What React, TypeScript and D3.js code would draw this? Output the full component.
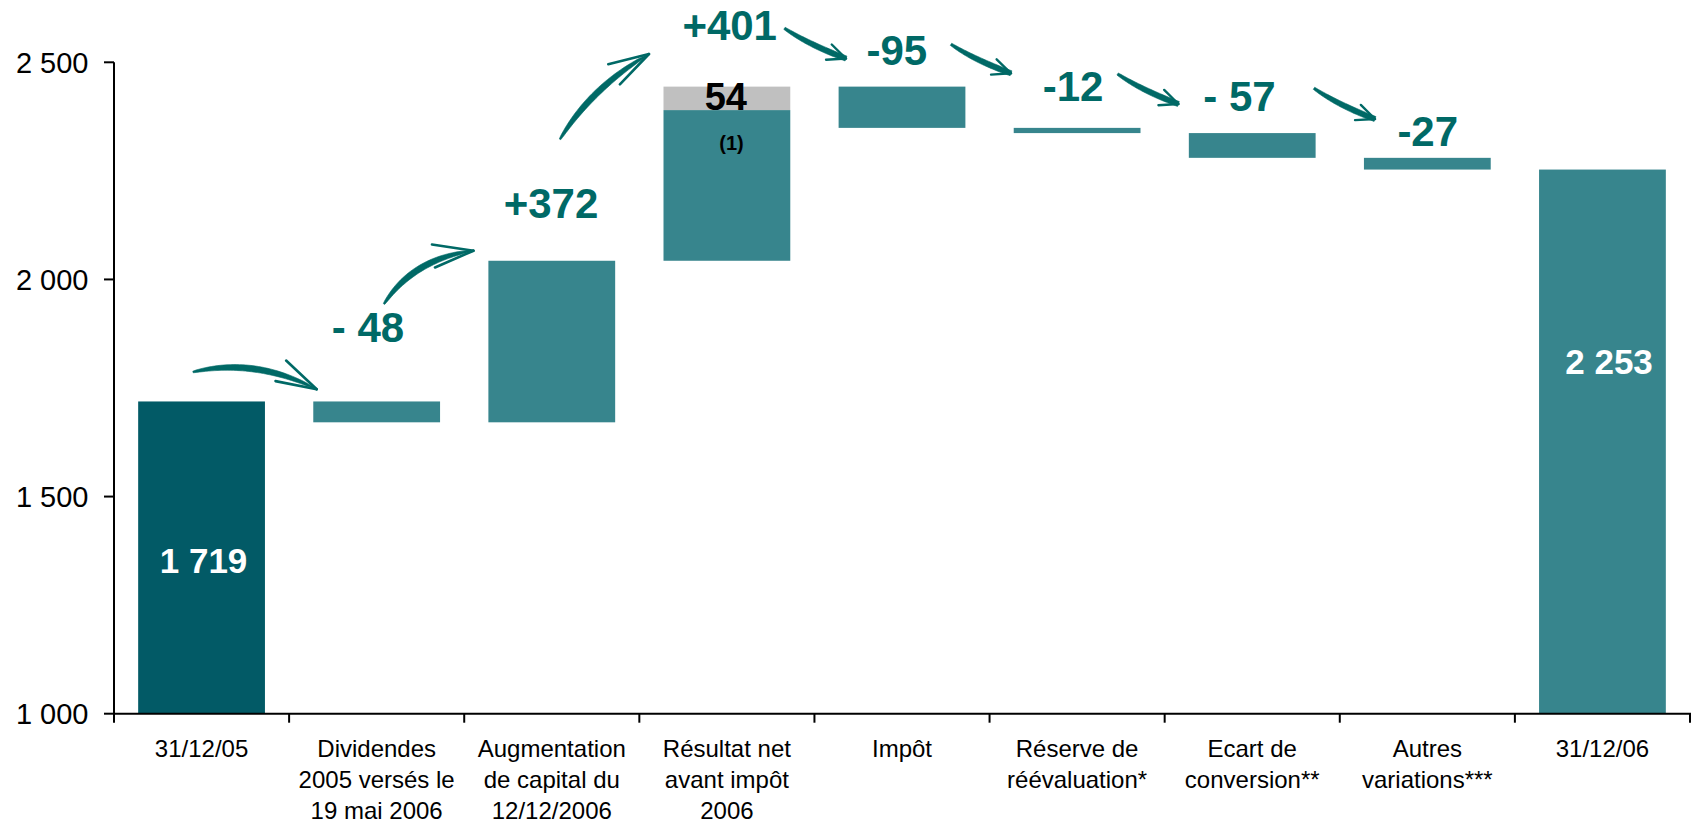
import React from "react";
import * as d3 from "d3";

// ---------- data ----------
const categories: string[][] = [
  ["31/12/05"],
  ["Dividendes", "2005 versés le", "19 mai 2006"],
  ["Augmentation", "de capital du", "12/12/2006"],
  ["Résultat net", "avant impôt", "2006"],
  ["Impôt"],
  ["Réserve de", "réévaluation*"],
  ["Ecart de", "conversion**"],
  ["Autres", "variations***"],
  ["31/12/06"],
];
const startValue = 1719;
const changes = [-48, 372, 401, -95, -12, -57, -27];
const endValue = 2253;
const highlightPart = 54; // grey part of "Résultat net avant impôt 2006"
const highlightIndex = 3;
const yTicks = [1000, 1500, 2000, 2500];
const valueLabels = ["1 719", "- 48", "+372", "+401", "-95", "-12", "- 57", "-27", "2 253"];
const highlightLabel = "54";
const highlightNote = "(1)";

// ---------- annotation placement (px offsets from bar top / band centre) ----------
const labelDx = [2, -8.7, -0.8, 2.8, -5.2, -4, -12.7, 0.4, 6.6];
const labelDy = [171.7, -59.9, -42.6, -46.2, -21.9, -26.4, -21.6, -11.4, 204.7];

// hand-drawn arrows, in (category position, value) units: tail, control, tip
const arrows: [number, number][][] = [
  [[0.4511, 1786.9], [0.8052, 1820.2], [1.1576, 1747.0]],
  [[1.5419, 1943.4], [1.7089, 2047.9], [2.053, 2066.2]],
  [[2.547, 2322.7], [2.7269, 2442.3], [3.0552, 2519.1]],
  [[3.829, 2578.3], [3.9675, 2540.8], [4.1802, 2508.7]],
  [[4.7799, 2541.4], [4.9146, 2505.3], [5.1225, 2474.7]],
  [[5.7313, 2473.1], [5.8683, 2435.8], [6.0785, 2404.0]],
  [[6.8528, 2440.1], [6.9899, 2401.9], [7.2012, 2369.4]],
];
const arrowSize = [1, 1, 1, 0.6, 0.6, 0.6, 0.6];

// ---------- styles ----------
const W = 1696;
const H = 823;
const FONT = "'Liberation Sans', Arial, Helvetica, sans-serif";
const DARK = "#025A66";
const MID = "#37858D";
const GREY = "#C0C0C0";
const TEAL = "#006966";

const left = 114;
const right = 1690;
const top = 62.3;
const bottom = 713.7;

function arrowShape(p0: number[], p1: number[], p2: number[], s: number) {
  const N = 40;
  const L: number[][] = [];
  const R: number[][] = [];
  const wMin = 0.8;
  const wMax = s < 1 ? 2.8 : 3.1;
  for (let k = 0; k <= N; k++) {
    const t = k / N;
    const mt = 1 - t;
    const x = mt * mt * p0[0] + 2 * mt * t * p1[0] + t * t * p2[0];
    const y = mt * mt * p0[1] + 2 * mt * t * p1[1] + t * t * p2[1];
    const dx = 2 * mt * (p1[0] - p0[0]) + 2 * t * (p2[0] - p1[0]);
    const dy = 2 * mt * (p1[1] - p0[1]) + 2 * t * (p2[1] - p1[1]);
    const len = Math.hypot(dx, dy) || 1;
    const nx = -dy / len;
    const ny = dx / len;
    const prof = s < 1 ? Math.pow(Math.sin(Math.PI * Math.min(1, t * 0.62 + 0.05)), 0.8) :
      Math.pow(Math.sin(Math.PI * Math.min(1, t * 1.05)), 0.7);
    const w = wMin + (wMax - wMin) * prof;
    L.push([x + nx * w, y + ny * w]);
    R.push([x - nx * w, y - ny * w]);
  }
  const pts = L.concat(R.reverse());
  const body = "M" + pts.map((p) => p[0].toFixed(2) + "," + p[1].toFixed(2)).join("L") + "Z";
  // barbs
  const bx = p1[0] - p2[0];
  const by = p1[1] - p2[1];
  const ang = Math.atan2(by, bx);
  const spread = (s < 1 ? 24 : 16) * (Math.PI / 180);
  const blen = s < 1 ? 20 : 42;
  const b1 = [p2[0] + Math.cos(ang + spread) * blen, p2[1] + Math.sin(ang + spread) * blen];
  const b2 = [p2[0] + Math.cos(ang - spread) * blen, p2[1] + Math.sin(ang - spread) * blen];
  return { body, b1, b2, tip: p2 };
}

export default function App() {
  const idx = categories.map((_, i) => String(i));
  const x = d3.scaleBand<string>().domain(idx).range([left, right]).paddingInner(0.276).paddingOuter(0.138);
  const xPos = d3.scaleLinear().domain([0, categories.length]).range([left, right]);
  const y = d3.scaleLinear().domain([1000, 2500]).range([bottom, top]);
  const base = y.domain()[0];

  type Bar = { i: number; y0: number; y1: number; fill: string };
  const bars: Bar[] = [];
  const tops: number[] = [];
  bars.push({ i: 0, y0: base, y1: startValue, fill: DARK });
  tops.push(startValue);
  let run = startValue;
  changes.forEach((c, k) => {
    const i = k + 1;
    const a = run;
    const b = run + c;
    run = b;
    if (i === highlightIndex) {
      const hi = Math.max(a, b);
      bars.push({ i, y0: Math.min(a, b), y1: hi - highlightPart, fill: MID });
      bars.push({ i, y0: hi - highlightPart, y1: hi, fill: GREY });
    } else {
      bars.push({ i, y0: Math.min(a, b), y1: Math.max(a, b), fill: MID });
    }
    tops.push(Math.max(a, b));
  });
  bars.push({ i: categories.length - 1, y0: base, y1: endValue, fill: MID });
  tops.push(endValue);

  const bw = x.bandwidth();
  const cx = (i: number) => (x(String(i)) as number) + bw / 2;

  return (
    <svg
      width={W}
      height={H}
      viewBox={`0 0 ${W} ${H}`}
      style={{ position: "absolute", left: 0, top: 0, display: "block", background: "#fff" }}
      fontFamily={FONT}
    >
      <rect x={0} y={0} width={W} height={H} fill="#fff" />
      {/* bars */}
      {bars.map((b, k) => (
        <rect
          key={"b" + k}
          x={x(String(b.i))}
          y={y(b.y1)}
          width={bw}
          height={y(b.y0) - y(b.y1)}
          fill={b.fill}
        />
      ))}

      {/* axes */}
      <line x1={left} x2={left} y1={y(2500)} y2={y(1000)} stroke="#000" strokeWidth={2} />
      <line x1={left - 1} x2={right + 1} y1={y(1000)} y2={y(1000)} stroke="#000" strokeWidth={2} />
      {yTicks.map((t) => (
        <g key={"yt" + t}>
          <line x1={left - 10} x2={left} y1={y(t)} y2={y(t)} stroke="#000" strokeWidth={2} />
          <text x={88.5} y={y(t)} dy="0.36em" textAnchor="end" fontSize={29} fill="#000">
            {d3.format(",")(t).replace(",", " ")}
          </text>
        </g>
      ))}
      {d3.range(categories.length + 1).map((k) => (
        <line
          key={"xt" + k}
          x1={xPos(k)}
          x2={xPos(k)}
          y1={y(1000)}
          y2={y(1000) + 9}
          stroke="#000"
          strokeWidth={2}
        />
      ))}
      {categories.map((lines, i) => (
        <text key={"xl" + i} textAnchor="middle" fontSize={24} fill="#000">
          {lines.map((ln, j) => (
            <tspan key={j} x={cx(i)} y={y(1000) + 43.3 + j * 31}>
              {ln}
            </tspan>
          ))}
        </text>
      ))}

      {/* value labels */}
      {valueLabels.map((lab, i) => {
        const isTotal = i === 0 || i === valueLabels.length - 1;
        return (
          <text
            key={"vl" + i}
            x={cx(i) + labelDx[i]}
            y={y(tops[i]) + labelDy[i]}
            textAnchor="middle"
            fontWeight="bold"
            fontSize={isTotal ? 35 : 42}
            fill={isTotal ? "#fff" : TEAL}
          >
            {lab}
          </text>
        );
      })}
      <text
        x={cx(highlightIndex) - 1}
        y={y(tops[highlightIndex]) + 23.8}
        textAnchor="middle"
        fontWeight="bold"
        fontSize={38}
        fill="#000"
      >
        {highlightLabel}
      </text>
      <text
        x={cx(highlightIndex) + 4.6}
        y={y(tops[highlightIndex] - highlightPart) + 39.7}
        textAnchor="middle"
        fontWeight="bold"
        fontSize={20}
        fill="#000"
      >
        {highlightNote}
      </text>

      {/* arrows */}
      {arrows.map((a, k) => {
        const pts = a.map((p) => [xPos(p[0]), y(p[1])]);
        const s = arrowShape(pts[0], pts[1], pts[2], arrowSize[k]);
        const sw = arrowSize[k] < 1 ? 2.4 : 2.6;
        return (
          <g key={"ar" + k} fill={TEAL} stroke={TEAL}>
            <path d={s.body} strokeWidth={0.6} />
            <line x1={s.tip[0]} y1={s.tip[1]} x2={s.b1[0]} y2={s.b1[1]} strokeWidth={sw} strokeLinecap="round" />
            <line x1={s.tip[0]} y1={s.tip[1]} x2={s.b2[0]} y2={s.b2[1]} strokeWidth={sw} strokeLinecap="round" />
          </g>
        );
      })}
    </svg>
  );
}
